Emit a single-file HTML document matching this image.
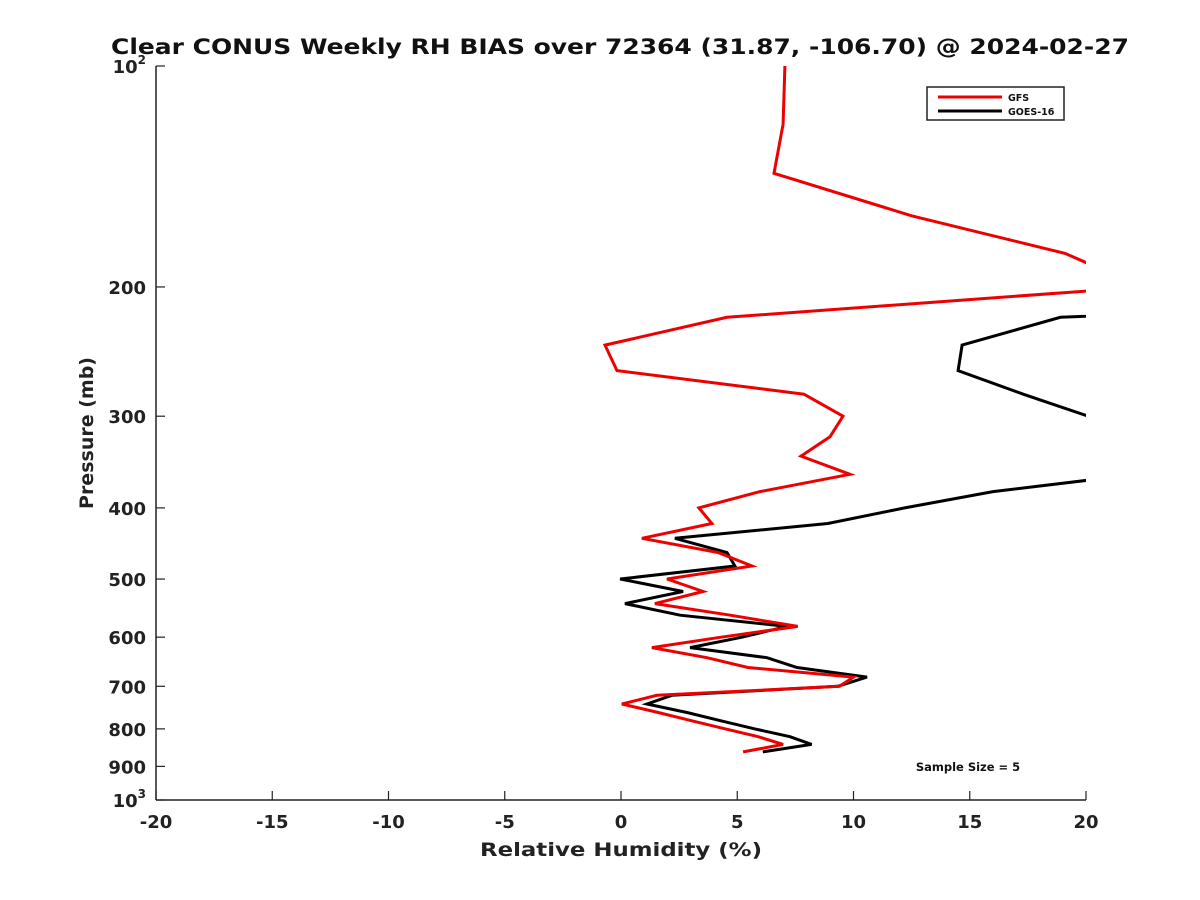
<!DOCTYPE html>
<html><head><meta charset="utf-8"><style>
body{margin:0;background:#fff;}
svg{display:block;font-family:"DejaVu Sans","Liberation Sans",sans-serif;}
</style></head><body>
<svg id="chart" width="1200" height="900">
<text x="620" y="54" text-anchor="middle" font-size="21" font-weight="bold" fill="#111" textLength="1018" lengthAdjust="spacingAndGlyphs">Clear CONUS Weekly RH BIAS over 72364 (31.87, -106.70) @ 2024-02-27</text>
<defs><clipPath id="plotclip"><rect x="156" y="66" width="930" height="734"/></clipPath></defs>
<g id="axes"></g>
<g id="series" clip-path="url(#plotclip)"></g>
<text x="621" y="856" text-anchor="middle" font-size="19" font-weight="bold" fill="#222" textLength="282" lengthAdjust="spacingAndGlyphs">Relative Humidity (%)</text>
<text transform="translate(93,433) rotate(-90)" text-anchor="middle" font-size="19" font-weight="bold" fill="#222">Pressure (mb)</text>
<g>
<rect x="927" y="87" width="137" height="33" fill="#fff" stroke="#222" stroke-width="1.5"/>
<line x1="938" y1="97" x2="1002" y2="97" stroke="#ee0000" stroke-width="3"/>
<text x="1008" y="101" font-size="9.5" font-weight="bold" fill="#111">GFS</text>
<line x1="938" y1="111" x2="1002" y2="111" stroke="#000" stroke-width="3"/>
<text x="1008" y="115" font-size="9.5" font-weight="bold" fill="#111">GOES-16</text>
</g>
<text x="968" y="771" text-anchor="middle" font-size="11.5" font-weight="bold" fill="#111">Sample Size = 5</text>
</svg>
<script>
const levels = [100,120,140,160,180,200,220,240,260,280,300,320,340,360,380,400,420,440,460,480,500,520,540,560,580,600,620,640,660,680,700,720,740,760,780,800,820,840,860];
const gfsBias = [7.05,6.97,6.58,12.5,19.1,22.4,4.56,-0.69,-0.17,7.87,9.55,8.99,7.74,9.85,5.98,3.35,3.91,0.9,4.17,5.63,1.98,3.53,1.46,4.7,7.6,4.3,1.33,3.7,5.46,10.0,9.4,1.55,0.04,1.6,3.05,4.5,5.9,6.97,5.25];
const goesLevels = [200,220,240,260,280,300,320,340,360,380,400,420,440,460,480,500,520,540,560,580,600,620,640,660,680,700,720,740,760,780,800,820,840,860];
const goesBias = [49,18.9,14.67,14.5,17.3,20.1,24,25,22.2,16.0,12.2,8.9,2.32,4.56,4.9,-0.04,2.67,0.17,2.54,7.14,5.2,2.97,6.28,7.57,10.58,9.33,2.19,1.12,2.84,4.3,5.76,7.27,8.2,6.1];
const xTicks = [-20,-15,-10,-5,0,5,10,15,20];
const yTicks = [100,200,300,400,500,600,700,800,900,1000];
const yTickLabels = ["10²","200","300","400","500","600","700","800","900","10³"];

const X0=156,X1=1086,Y0=66,Y1=800;
const xs = v => X0 + (v+20)/40*(X1-X0);
const ys = p => Y0 + Math.log10(p/100)*(Y1-Y0);
const NS='http://www.w3.org/2000/svg';
const axes=document.getElementById('axes'), series=document.getElementById('series');
function mk(tag, attrs, parent){const e=document.createElementNS(NS,tag);for(const k in attrs)e.setAttribute(k,attrs[k]);parent.appendChild(e);return e;}

let e=mk('line',{x1:X0,y1:Y0,x2:X0,y2:Y1,stroke:'#222','stroke-width':1.5},axes);


e=mk('line',{x1:X0,y1:Y1,x2:X1,y2:Y1,stroke:'#222','stroke-width':1.5},axes);


xTicks.forEach(v=>{
  const t=mk('line',{x1:xs(v),y1:Y1,x2:xs(v),y2:Y1-9,stroke:'#222','stroke-width':1.2},axes);
  
  
  const l=mk('text',{x:xs(v),y:Y1+28,'text-anchor':'middle','font-size':18,'font-weight':'bold',fill:'#222'},axes);
  l.textContent=String(v);
  
  
});
yTicks.forEach((p,i)=>{
  const t=mk('line',{x1:X0,y1:ys(p),x2:X0+9,y2:ys(p),stroke:'#222','stroke-width':1.2},axes);
  
  
  const l=mk('text',{x:X0-10,y:ys(p)+7,'text-anchor':'end','font-size':18,'font-weight':'bold',fill:'#222'},axes);
  const lab=yTickLabels[i];
  if(lab.startsWith('10')&&lab.length===3){
    l.textContent='10';
    const s=mk('tspan',{dy:-9,'font-size':12},l);
    s.textContent=lab==='10²'?'2':'3';
  } else l.textContent=lab;
  
  
});
function line(lv,vals,color,name){
  const d=lv.map((p,i)=>(i?'L':'M')+xs(vals[i]).toFixed(1)+','+ys(p).toFixed(1)).join(' ');
  const pth=mk('path',{d:d,fill:'none',stroke:color,'stroke-width':3,'stroke-linejoin':'miter'},series);
  
  
}
line(goesLevels,goesBias,'#000','goes16-line');
line(levels,gfsBias,'#ee0000','gfs-line');
</script>
</body></html>
